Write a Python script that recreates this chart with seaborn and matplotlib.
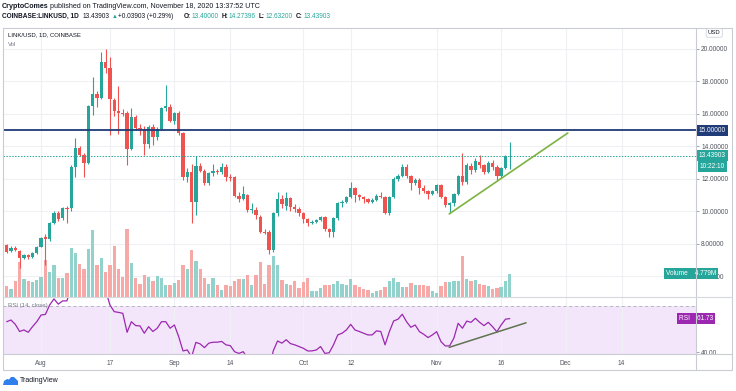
import numpy as np
import pandas as pd
import seaborn as sns
import matplotlib.pyplot as plt
from matplotlib.patches import Rectangle, Polygon
from matplotlib.lines import Line2D
from matplotlib.transforms import blended_transform_factory as blend

# LINK/USD daily candles (Coinbase)
start = "2020-07-24"
opens = [7.94, 7.57, 7.75, 7.55, 7.16, 7.30, 7.20, 7.45, 7.83, 8.40,
         8.29, 9.27, 9.89, 9.58, 10.24, 10.19, 12.76, 13.89, 13.48, 12.97,
         16.49, 17.21, 16.98, 19.22, 18.85, 16.86, 16.20, 16.05, 16.08, 13.85,
         15.80, 15.16, 15.10, 14.13, 15.22, 14.56, 15.10, 16.37, 16.45, 15.57,
         16.06, 14.83, 12.10, 12.45, 10.58, 12.80, 12.51, 11.75, 12.35, 12.49,
         12.45, 12.76, 12.10, 12.14, 10.97, 10.75, 11.00, 10.09, 10.09, 9.68,
         8.76, 8.76, 7.63, 9.89, 10.75, 10.34, 10.81, 10.30, 10.13, 9.89,
         9.52, 9.27, 9.37, 9.48, 9.64, 8.90, 8.76, 9.58, 10.50, 10.61,
         10.87, 11.43, 11.02, 10.87, 10.75, 10.61, 10.71, 10.95, 10.87, 9.89,
         10.91, 11.98, 12.18, 12.76, 12.18, 11.77, 11.95, 11.45, 11.25, 11.10,
         11.28, 11.60, 10.91, 10.40, 10.50, 11.05, 12.18, 11.80, 12.80, 12.55,
         13.05, 12.85, 12.45, 12.96, 12.75, 12.20, 12.68, 13.40]
highs = [8.00, 7.85, 7.85, 7.60, 7.40, 7.38, 7.50, 7.90, 8.40, 8.60,
         9.35, 10.00, 10.05, 10.30, 10.35, 12.85, 14.52, 14.05, 13.60, 16.55,
         18.30, 17.40, 19.84, 20.00, 19.50, 17.00, 17.70, 16.30, 16.20, 16.35,
         15.95, 15.40, 15.25, 15.35, 15.40, 15.20, 16.45, 17.78, 16.60, 16.15,
         16.20, 14.90, 12.70, 12.90, 13.42, 13.00, 12.60, 12.45, 12.95, 12.60,
         13.00, 12.90, 12.30, 12.20, 11.20, 11.55, 11.10, 10.50, 10.25, 9.80,
         8.90, 8.85, 9.95, 11.22, 11.00, 11.20, 10.90, 10.45, 10.30, 9.95,
         9.60, 9.45, 9.55, 9.75, 9.70, 9.00, 9.65, 10.60, 10.70, 10.95,
         11.84, 11.50, 11.10, 10.95, 10.85, 10.80, 11.10, 11.20, 10.95, 10.95,
         12.10, 12.30, 12.95, 12.95, 12.25, 12.05, 12.05, 11.60, 11.35, 11.35,
         11.70, 11.70, 10.95, 10.60, 11.12, 12.25, 13.62, 13.00, 13.00, 13.30,
         13.50, 12.95, 13.10, 13.15, 12.85, 12.75, 13.45, 14.27396]
lows = [7.45, 7.50, 7.55, 6.54, 7.05, 7.10, 7.15, 7.40, 7.80, 6.70,
        8.20, 9.20, 9.40, 9.50, 9.27, 10.05, 12.14, 13.40, 12.12, 12.90,
        15.94, 16.45, 16.90, 18.50, 14.70, 15.90, 14.75, 15.90, 12.86, 13.80,
        15.00, 14.70, 13.48, 13.90, 14.10, 14.40, 15.00, 16.20, 15.50, 15.40,
        14.70, 11.95, 11.80, 9.30, 9.80, 12.40, 11.60, 11.60, 12.20, 12.30,
        12.30, 11.90, 11.90, 10.90, 10.60, 10.70, 9.95, 9.90, 9.55, 8.70,
        8.60, 7.38, 7.50, 9.70, 10.20, 10.10, 10.00, 9.95, 9.70, 9.27,
        9.10, 9.20, 9.30, 9.40, 8.80, 8.45, 8.45, 9.50, 10.30, 10.50,
        10.80, 10.60, 10.70, 10.55, 10.50, 10.55, 10.65, 10.80, 9.85, 9.80,
        10.85, 11.85, 12.10, 12.05, 11.30, 11.60, 11.10, 11.15, 10.75, 11.00,
        11.15, 10.85, 10.30, 9.89, 10.35, 11.00, 11.60, 11.70, 12.30, 12.45,
        12.70, 12.30, 12.35, 12.55, 11.90, 12.05, 12.60, 12.632]
closes = [7.53, 7.75, 7.60, 7.12, 7.30, 7.20, 7.45, 7.83, 8.35, 8.30,
          9.27, 9.93, 9.52, 10.24, 10.13, 12.76, 13.89, 13.48, 12.97, 16.49,
          17.21, 16.98, 19.22, 18.85, 16.92, 16.20, 16.05, 16.00, 13.85, 15.80,
          15.16, 15.10, 14.13, 15.22, 14.56, 15.10, 16.37, 16.50, 15.57, 16.06,
          14.83, 12.12, 12.45, 10.58, 12.80, 12.51, 11.75, 12.35, 12.49, 12.45,
          12.76, 12.10, 12.05, 10.97, 10.75, 11.05, 10.09, 10.12, 9.78, 8.76,
          8.70, 7.63, 9.89, 10.75, 10.45, 10.81, 10.30, 10.13, 9.89, 9.52,
          9.27, 9.37, 9.48, 9.64, 8.90, 8.76, 9.58, 10.50, 10.61, 10.87,
          11.43, 11.02, 10.87, 10.75, 10.61, 10.71, 10.95, 10.87, 9.89, 10.91,
          11.98, 12.18, 12.76, 12.18, 11.77, 11.95, 11.45, 11.25, 11.10, 11.28,
          11.60, 10.91, 10.40, 10.50, 11.05, 12.18, 11.80, 12.85, 12.55, 13.10,
          12.85, 12.45, 12.96, 12.75, 12.20, 12.68, 13.40, 13.43903]
volumes = [2.3, 1.7, 3.2, 7.2, 3.6, 3.2, 3.1, 3.4, 4.1, 7.5,
           5.1, 6.6, 4.0, 3.8, 5.0, 10.0, 9.1, 6.8, 5.7, 9.8,
           13.7, 6.5, 8.1, 5.1, 6.5, 10.5, 5.8, 4.1, 14.0, 7.0,
           3.9, 2.7, 4.6, 4.2, 3.2, 4.3, 3.8, 2.4, 2.5, 2.9,
           3.4, 6.5, 5.8, 9.7, 7.3, 5.8, 3.9, 2.7, 4.0, 2.4,
           1.5, 2.4, 2.3, 3.2, 3.6, 3.6, 4.6, 2.5, 4.6, 7.2,
           2.7, 6.5, 8.5, 6.5, 3.4, 2.7, 2.5, 3.2, 1.8, 3.1,
           3.8, 1.2, 1.2, 1.8, 2.5, 2.4, 2.7, 3.3, 2.6, 2.5,
           3.6, 2.4, 2.1, 1.7, 1.5, 0.8, 1.2, 1.4, 2.1, 3.2,
           3.8, 3.1, 2.1, 2.1, 2.9, 2.5, 2.4, 2.4, 2.3, 1.2,
           0.9, 2.2, 3.1, 3.1, 3.3, 3.3, 8.5, 3.6, 3.2, 3.5,
           2.7, 2.4, 2.3, 1.7, 1.8, 2.1, 3.2, 4.779]
rsi = [59.7, 60.8, 58.0, 53.4, 54.4, 52.9, 56.5, 59.7, 64.0, 64.4,
       70.5, 74.4, 71.0, 73.1, 73.1, 82.0, 85.0, 79.0, 75.3, 83.0,
       86.0, 84.0, 88.0, 80.0, 70.5, 66.2, 65.7, 65.1, 52.9, 59.7,
       57.2, 57.0, 52.3, 56.5, 53.4, 55.5, 59.7, 59.7, 55.5, 57.6,
       50.1, 40.9, 41.5, 37.0, 46.4, 45.4, 43.0, 45.9, 46.5, 46.5,
       47.0, 44.8, 44.3, 40.4, 39.3, 40.4, 36.5, 37.0, 35.5, 31.5,
       31.0, 27.0, 41.0, 47.3, 45.9, 48.1, 45.6, 44.8, 43.7, 42.6,
       40.9, 40.9, 41.5, 43.7, 39.3, 39.7, 44.8, 51.2, 52.3, 54.4,
       58.0, 54.4, 53.4, 52.3, 51.2, 51.2, 53.8, 53.4, 44.8, 53.3,
       60.2, 61.3, 64.5, 59.7, 56.1, 57.6, 53.3, 51.6, 49.5, 51.2,
       53.3, 46.9, 44.1, 44.1, 49.1, 58.7, 55.5, 60.1, 59.3, 61.9,
       59.3, 57.2, 59.3, 56.5, 53.2, 57.6, 61.3, 61.73]

resistance = 15.0
trend_dates = ["2020-11-03 22:00", "2020-12-01 12:00"]
trend_prices = [9.85, 14.83]
rsi_trend_dates = ["2020-11-03 22:00", "2020-11-21 19:00"]
rsi_trend_values = [43.2, 59.0]

price_ticks = [6, 8, 10, 12, 14, 16, 18, 20]
date_ticks = ["2020-08-01", "2020-08-17", "2020-09-01", "2020-09-14", "2020-10-01",
              "2020-10-12", "2020-11-01", "2020-11-16", "2020-12-01", "2020-12-14"]
date_labels = ["Aug", "17", "Sep", "14", "Oct", "12", "Nov", "16", "Dec", "14"]

dates = pd.date_range(start, periods=len(closes), freq="D")
o, c = np.array(opens), np.array(closes)
up = c >= o
bar_w = pd.Timedelta(hours=18.5)

sns.set_style("white")
plt.rcParams["font.family"] = ["Liberation Sans", "DejaVu Sans"]

UP, DOWN = "#26a69a", "#ef5350"
UP_V, DOWN_V = "#92d2cc", "#f7a9a8"
GRID = "#eef0f4"
TXT = "#50535e"
DARK = "#131722"
NAVY = "#1f3b78"
PURPLE = "#9c27b0"

W, H = 736, 391
fig = plt.figure(figsize=(W / 100, H / 100), dpi=100)


def px_box(x0, y0, x1, y1):
    return [x0 / W, 1 - y1 / H, (x1 - x0) / W, (y1 - y0) / H]


def ftext(x, y, s, **kw):
    kw.setdefault("va", "center")
    kw.setdefault("ha", "left")
    return fig.text(x / W, 1 - y / H, s, **kw)


def fline(x0, y0, x1, y1, color="#d1d4dc", lw=0.8):
    fig.add_artist(Line2D([x0 / W, x1 / W], [1 - y0 / H, 1 - y1 / H],
                          transform=fig.transFigure, color=color, lw=lw))


L, R = 3, 695.5
axv = fig.add_axes(px_box(L, 27.5, R, 297))
ax = fig.add_axes(px_box(L, 27.5, R, 297), sharex=axv)
axr = fig.add_axes(px_box(L, 297, R, 354), sharex=axv)
ax.patch.set_visible(False)

# volume bars (bottom layer)
axv.bar(dates, volumes, width=bar_w, color=np.where(up, UP_V, DOWN_V), lw=0, zorder=2)
axv.set_ylim(0, 55.3)
axv.grid(axis="x", color=GRID, lw=0.8)
axv.set_axisbelow(True)
axv.hlines(price_ticks, 0, 1, transform=blend(axv.transAxes, ax.transData),
           color=GRID, lw=0.8, zorder=0.5)
axv.tick_params(left=False, labelleft=False, bottom=False, labelbottom=False)

# candles
col = np.where(up, UP, DOWN)
ax.vlines(dates, lows, highs, color=col, lw=0.8)
ax.bar(dates, np.maximum(np.abs(c - o), 0.04), bottom=np.minimum(o, c),
       width=bar_w, color=col, lw=0)
ax.axhline(resistance, color=NAVY, lw=1.3)
ax.axhline(closes[-1], color=UP, lw=0.7, ls=(0, (1.5, 1.5)))
sns.lineplot(x=pd.to_datetime(trend_dates), y=trend_prices, ax=ax, color="#7cb342", lw=1.2)
ax.set_ylim(4.738, 21.323)
ax.yaxis.tick_right()
ax.set_yticks(price_ticks)
ax.set_yticklabels([f"{p:.5f}" for p in price_ticks])
ax.tick_params(axis="y", length=2.5, width=0.6, color="#9598a1",
               labelcolor=TXT, labelsize=4.7, pad=1.5)
ax.tick_params(axis="x", bottom=False, labelbottom=False)
ax.set_xlabel("")
ax.set_ylabel("")

# RSI pane
axr.axhspan(30, 70, color="#f3e6fb", lw=0, zorder=0)
axr.axhline(70, color="#b2b5be", lw=0.7, ls=(0, (3, 3)))
sns.lineplot(x=dates, y=rsi, ax=axr, color=PURPLE, lw=0.9)
sns.lineplot(x=pd.to_datetime(rsi_trend_dates), y=rsi_trend_values, ax=axr,
             color="#5f7350", lw=1.1)
axr.set_ylim(38.91, 75.61)
axr.yaxis.tick_right()
axr.set_yticks([40])
axr.set_yticklabels(["40.00"])
axr.set_xticks(pd.to_datetime(date_ticks))
axr.set_xticklabels(date_labels)
axr.tick_params(axis="x", length=0, labelsize=4.7, labelcolor=TXT, pad=4.5)
axr.tick_params(axis="y", length=2.5, width=0.6, color="#9598a1",
                labelcolor=TXT, labelsize=4.7, pad=1.5)
axr.grid(axis="x", color=GRID, lw=0.8)
axr.set_xlabel("")
axr.set_ylabel("")

axv.set_xlim(dates[0] - pd.Timedelta(days=0.86), dates[0] + pd.Timedelta(days=160.2))

for a in (ax, axv, axr):
    for s in a.spines.values():
        s.set_visible(False)

# price-scale badges
xb = (699 - L) / (R - L)
box = dict(boxstyle="square,pad=0.3", ec="none")
ax.text(xb, resistance, f"{resistance:.5f}", transform=blend(ax.transAxes, ax.transData),
        color="white", fontsize=4.7, va="center", clip_on=False, zorder=10,
        bbox=dict(box, fc=NAVY))
ax.text(xb, closes[-1], f"{closes[-1]:.5f}", transform=blend(ax.transAxes, ax.transData),
        color="white", fontsize=4.7, va="center", clip_on=False, zorder=10,
        bbox=dict(box, fc=UP))
ax.annotate("10:22:10", xy=(xb, closes[-1]), xycoords=blend(ax.transAxes, ax.transData),
            xytext=(0.7, -8), textcoords="offset points", color="white", fontsize=4.7,
            va="center", zorder=10, annotation_clip=False, bbox=dict(box, fc=UP))
ax.text((666 - L) / (R - L), volumes[-1], f"Volume    {volumes[-1]:.3f}M",
        transform=blend(ax.transAxes, axv.transData), color="white", fontsize=4.7,
        va="center", clip_on=False, zorder=10, bbox=dict(box, fc=UP))
axr.text((679 - L) / (R - L), rsi[-1], f"RSI    {rsi[-1]:.2f}",
         transform=blend(axr.transAxes, axr.transData), color="white", fontsize=4.7,
         va="center", clip_on=False, zorder=10, bbox=dict(box, fc=PURPLE))

# frame
fig.add_artist(Rectangle((L / W, 1 - 370 / H), (732 - L) / W, (370 - 27.5) / H,
                         transform=fig.transFigure, fill=False, ec="#c9ccd3", lw=0.8))
fline(R, 27.5, R, 370, color="#c9ccd3")
fline(L, 297, 732, 297, color="#d6d8de")
fline(L, 354, 732, 354, color="#c9ccd3")

ftext(708, 33, "USD", color=DARK, fontsize=4.2,
      bbox=dict(boxstyle="round,pad=0.3", fc="white", ec="#d1d4dc", lw=0.6))

# header
ftext(1.5, 6, "CryptoComes", fontsize=5.1, weight="bold", color=DARK)
ftext(50.5, 6, "published on TradingView.com, November 18, 2020 13:37:52 UTC",
      fontsize=5.1, color=DARK)
chg = closes[-1] - closes[-2]
ftext(1.5, 16, "COINBASE:LINKUSD, 1D", fontsize=4.7, weight="bold", color=DARK)
ftext(83, 16, f"{closes[-1]:.5f}", fontsize=4.7, color=DARK)
ftext(111.5, 16, "\u25b2", fontsize=4.2, color=UP)
ftext(117.5, 16, f"+{chg:.5f} (+{chg / closes[-2] * 100:.2f}%)", fontsize=4.7, color=DARK)
for xl, xv, lab, val in [(183.5, 191.5, "O:", opens[-1]), (221.5, 228.5, "H:", highs[-1]),
                         (259, 265.5, "L:", lows[-1]), (296, 303.5, "C:", closes[-1])]:
    ftext(xl, 16, lab, fontsize=4.7, weight="bold", color=DARK)
    ftext(xv, 16, f"{val:.5f}", fontsize=4.7, color=UP)

ftext(8, 35, "LINK/USD, 1D, COINBASE", fontsize=4.3, color=DARK)
ftext(8, 44.5, "Vol", fontsize=4.3, color="#787b86")
ftext(8, 306, "RSI (14, close)", fontsize=4.3, color="#787b86")

# TradingView logo
cloud = [(3, 385), (4, 381), (7, 379), (9, 379.5), (11, 377), (14, 377), (16, 379),
         (18, 381), (18, 385)]
fig.add_artist(Polygon([(x / W, 1 - y / H) for x, y in cloud], closed=True,
                       transform=fig.transFigure, fc="#2f80ed", ec="none"))
ftext(19.5, 381, "TradingView", fontsize=5.0, color=DARK)

fig.savefig("out.png", dpi=100)
